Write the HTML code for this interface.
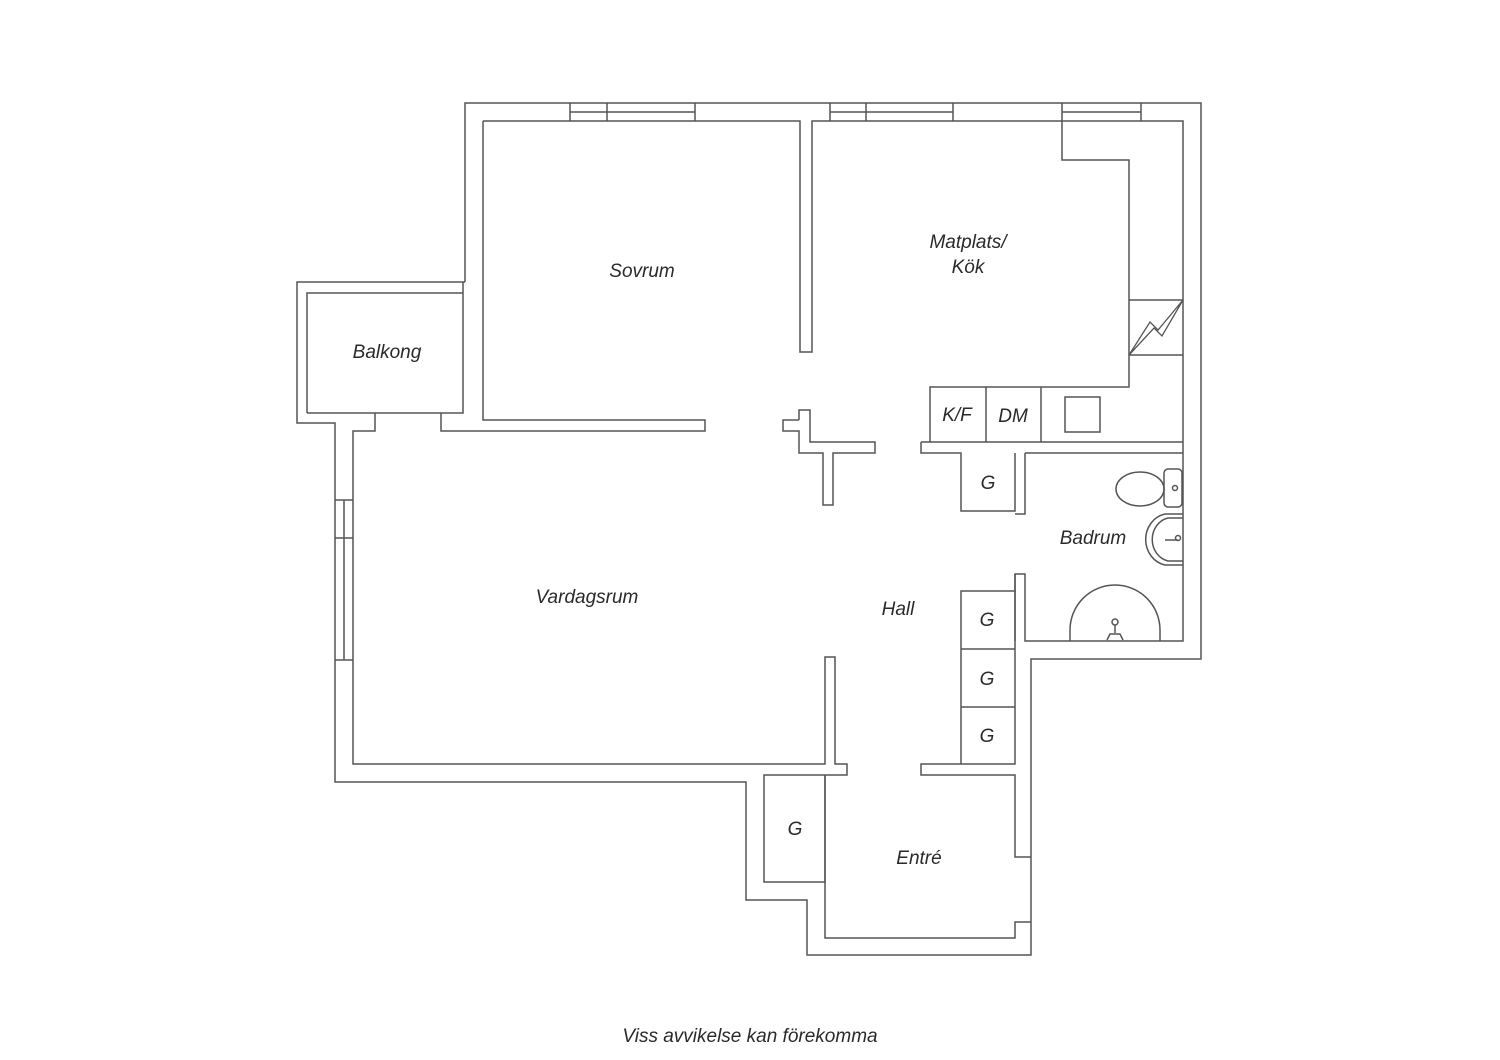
<!DOCTYPE html>
<html><head><meta charset="utf-8"><style>
html,body{margin:0;padding:0;background:#fff;width:1500px;height:1060px;overflow:hidden}
svg{display:block}
text{font-family:"Liberation Sans","DejaVu Sans",sans-serif;font-style:italic;fill:#2a2a2a;font-size:19px;text-anchor:middle}
</style></head><body>
<svg width="1500" height="1060" viewBox="0 0 1500 1060" xmlns="http://www.w3.org/2000/svg">
<g fill="none" stroke="#555" stroke-width="1.5" stroke-linejoin="miter">
<path d="M465 282 V103 H1201 V659 H1031 V955 H807 V900 H746 V782 H335 V423 H297 V282 H465"/>
<path d="M307 413 V293 H463"/>
<path d="M307 413 H463 V282"/>
<path d="M570 103 V121 M695 103 V121 M607 103 V121 M570 112 H695"/>
<path d="M830 103 V121 M953 103 V121 M866 103 V121 M830 112 H953"/>
<path d="M1062 103 V121 M1141 103 V121 M1062 112 H1141"/>
<path d="M483 121 V420 H705 V431 H441 V413"/>
<path d="M483 121 H800 V352 H812 V121 H1183 V641 H1025 V574 H1015 V641"/>
<path d="M375 413 V431 H353 V764 H825 V657 H835 V764 H847 V775 H764 V882 H825 V775"/>
<path d="M825 775 V938 H1015 V922 H1031"/>
<path d="M1031 857 H1015 V775 H921 V764 H1015 V591"/>
<path d="M335 500 H353 M335 538 H353 M335 660 H353 M344 500 V660"/>
<path d="M799 420 V410 H810 V442 H875 V453 H833 V505 H823 V453 H799 V431 H783 V420 H799"/>
<path d="M1062 121 V160 H1129 V387 H930 V442"/>
<path d="M1129 300 H1183 M1129 355 H1183"/>
<path d="M1129 355 L1150 322 L1158 330 L1183 300 L1162 336 L1154 328 Z" stroke-width="1.3"/>
<path d="M986 387 V442 M1041 387 V442"/>
<rect x="1065" y="397" width="35" height="35"/>
<path d="M921 442 H1183 M921 442 V453 H961 V511 H1015 V453 M1025 453 V514 H1015 M1025 453 H1183"/>
<path d="M1015 574 V591 H961 V764 M961 649 H1015 M961 707 H1015"/>
<ellipse cx="1140" cy="489" rx="24" ry="17"/>
<rect x="1164" y="469" width="18" height="38" rx="4"/>
<circle cx="1175" cy="488" r="2.5"/>
<path d="M1183 514 H1165 A24 26 0 0 0 1165 565 H1183"/>
<path d="M1183 518 H1168 A20 22 0 0 0 1168 561 H1183"/>
<path d="M1165 540 H1178"/><circle cx="1178" cy="538" r="2.5"/>
<path d="M1070 641 V630 A45 45 0 0 1 1160 630 V641"/>
<circle cx="1115" cy="622" r="3"/><path d="M1115 625 V633 M1107 640 L1110 634 H1120 L1123 640"/>
</g>
<text x="642" y="277">Sovrum</text>
<text x="387" y="358">Balkong</text>
<text x="968" y="248">Matplats/</text>
<text x="968" y="273">Kök</text>
<text x="957" y="421">K/F</text>
<text x="1013" y="422">DM</text>
<text x="988" y="489">G</text>
<text x="1093" y="544">Badrum</text>
<text x="587" y="603">Vardagsrum</text>
<text x="898" y="615">Hall</text>
<text x="987" y="626">G</text>
<text x="987" y="685">G</text>
<text x="987" y="742">G</text>
<text x="795" y="835">G</text>
<text x="919" y="864">Entré</text>
<text x="750" y="1042">Viss avvikelse kan förekomma</text>
</svg>
</body></html>
